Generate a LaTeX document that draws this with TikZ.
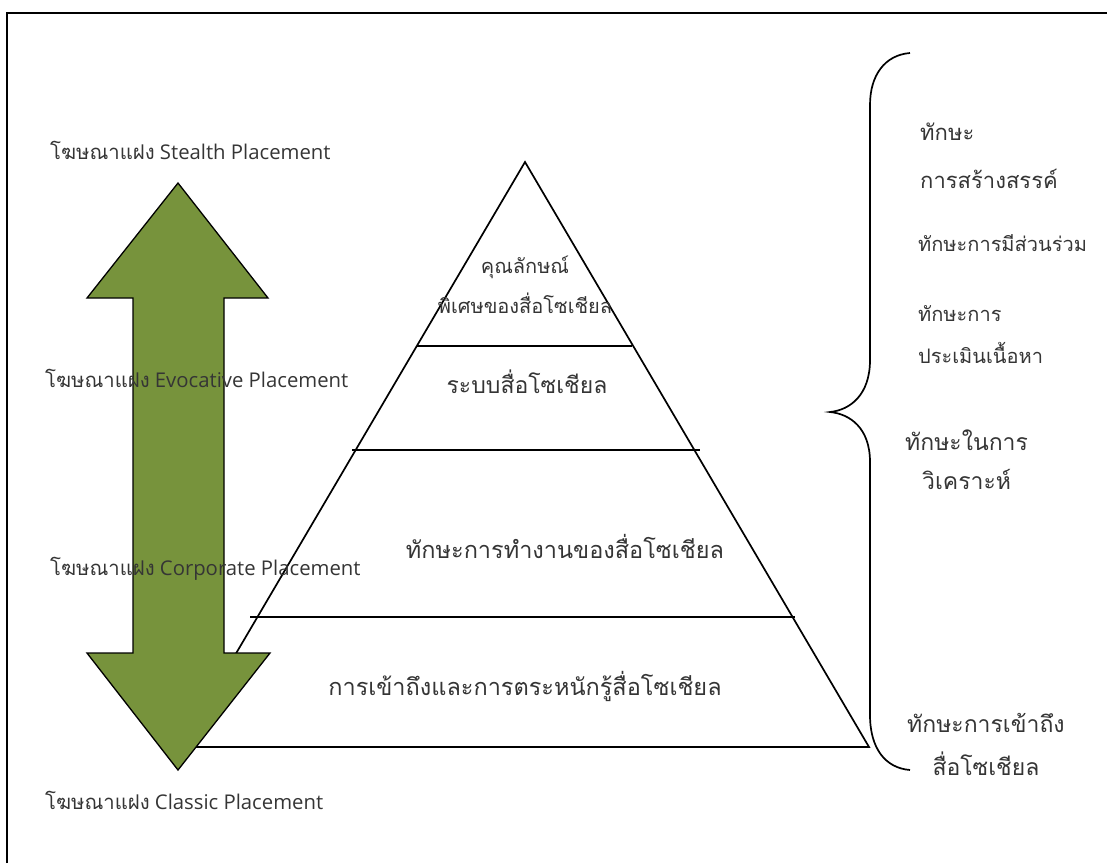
\documentclass[tikz,border=0pt]{standalone}
\usepackage{fontspec}
\setmainfont{Open Sans}
\newfontfamily\thai[Script=Thai]{Loma}
\definecolor{olivearrow}{HTML}{77933C}
\definecolor{txtgray}{HTML}{353535}
\begin{document}
\begin{tikzpicture}[x=1pt,y=-1pt,
  frameline/.style={line width=2.2pt},
  pyr/.style={line width=1.7pt, line join=miter},
  leftlbl/.style={anchor=west, inner sep=0pt, text=txtgray, font=\fontsize{20.3}{22}\selectfont},
  pyrtxt/.style={inner sep=0pt, text=txtgray, align=center},
  rtxt/.style={anchor=west, inner sep=0pt, text=txtgray, align=left}]
\useasboundingbox (0,0) rectangle (1107,863);
% frame
\draw[frameline] (7,863) -- (7,13) -- (1107,13);
% pyramid
\draw[pyr] (525,162) -- (869,747) -- (181,747) -- cycle;
\draw[pyr] (417,346) -- (632,346);
\draw[pyr] (352,450) -- (700,450);
\draw[pyr] (250,617) -- (795,617);
% double arrow
\draw[fill=olivearrow, line width=1.3pt, line join=miter]
  (178,183) -- (268,298) -- (224,298) -- (224,653) -- (270,653) -- (178,770)
  -- (87,653) -- (133,653) -- (133,298) -- (87,298) -- cycle;
% brace
\draw[line width=1.7pt]
  (910,53) .. controls (885,55) and (870,75) .. (870,105) -- (870,360)
  .. controls (870,395) and (850,410) .. (830,412)
  .. controls (850,414) and (870,428) .. (870,462) -- (870,715)
  .. controls (870,748) and (885,768) .. (910,770);
% left labels
\node[leftlbl] (l1) at (50,150) {{\thai โฆษณาแฝง} Stealth Placement};
\node[leftlbl] (l2) at (45,378) {{\thai โฆษณาแฝง} Evocative Placement};
\node[leftlbl] (l3) at (50,569) {{\thai โฆษณาแฝง} Corporate Placement};
\node[leftlbl] (l4) at (45,800) {{\thai โฆษณาแฝง} Classic Placement};
% pyramid text
\node[pyrtxt, font=\thai\fontsize{20}{40}\selectfont] (p1) at (525,285) {คุณลักษณ์\\พิเศษของสื่อโซเชียล};
\node[pyrtxt, font=\thai\fontsize{23}{26}\selectfont] (p2) at (527,382) {ระบบสื่อโซเชียล};
\node[pyrtxt, font=\thai\fontsize{23.5}{26}\selectfont] (p3) at (565,546) {ทักษะการทำงานของสื่อโซเชียล};
\node[pyrtxt, font=\thai\fontsize{23.5}{26}\selectfont] (p4) at (525,686) {การเข้าถึงและการตระหนักรู้สื่อโซเชียล};
% right labels
\node[rtxt, font=\thai\fontsize{22}{48}\selectfont] (r1) at (920,156) {ทักษะ\\การสร้างสรรค์};
\node[rtxt, font=\thai\fontsize{20}{20}\selectfont] (r2) at (918,243) {ทักษะการมีส่วนร่วม};
\node[rtxt, font=\thai\fontsize{20}{42}\selectfont] (r3) at (918,335) {ทักษะการ\\ประเมินเนื้อหา};
\node[rtxt, font=\thai\fontsize{23}{39}\selectfont, align=center] (r4) at (905,460) {ทักษะในการ\\วิเคราะห์};
\node[rtxt, font=\thai\fontsize{23}{43}\selectfont, align=center] (r5) at (907,744) {ทักษะการเข้าถึง\\สื่อโซเชียล};
\end{tikzpicture}
\end{document}
